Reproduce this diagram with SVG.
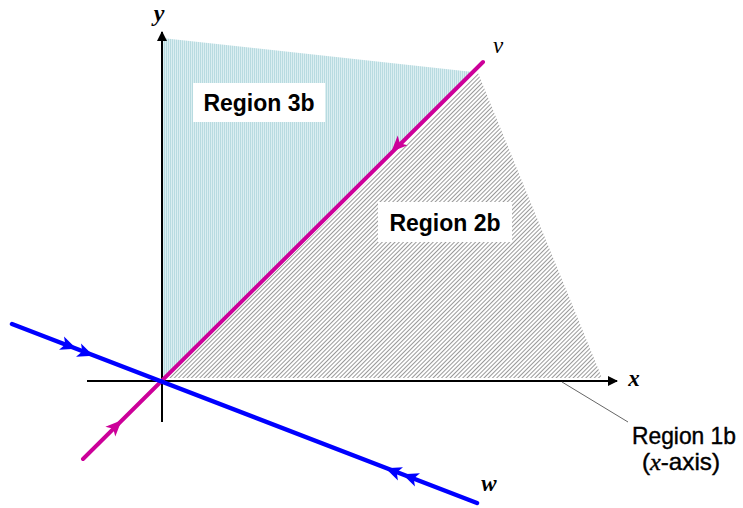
<svg xmlns="http://www.w3.org/2000/svg" width="743" height="508" viewBox="0 0 743 508">
<defs>
<pattern id="cyanPat" width="2" height="4" patternUnits="userSpaceOnUse">
<rect width="2" height="4" fill="#dbeef1"/>
<rect width="1" height="4" fill="#b8dbe0"/>
</pattern>
<pattern id="grayPat" width="3" height="3" patternUnits="userSpaceOnUse" patternTransform="rotate(45)">
<rect width="3" height="3" fill="#ffffff"/>
<rect width="1" height="3" fill="#999999"/>
</pattern>
<marker id="axHead" viewBox="0 0 10 10" refX="9" refY="5" markerWidth="5" markerHeight="5" orient="auto" markerUnits="strokeWidth">
<path d="M0,0 L10,5 L0,10 Z" fill="#000"/>
</marker>
<path id="head" d="M8,0 L-8,-7 L-4,0 L-8,7 Z"/>
<style>
.lbl{font-family:"Liberation Sans",Arial,sans-serif;fill:#000;text-anchor:middle}
.b{font-weight:bold}
.var{font-family:"Liberation Serif","Times New Roman",serif;font-style:italic;fill:#000;text-anchor:middle}
.axis{stroke:#000;stroke-width:2;fill:none}
.blue{stroke:#0000ff;stroke-width:4.5;fill:none;stroke-linecap:round}
.mag{stroke:#cc0099;stroke-width:4;fill:none;stroke-linecap:round}
.box{fill:#ffffff}
</style>
</defs>
<rect width="743" height="508" fill="#ffffff"/>

<g id="region3b">
<polygon points="162,38 473,72 471,72 162,381" fill="url(#cyanPat)"/>
</g>
<g id="region2b">
<polygon points="167,378 478,73 602,378" fill="url(#grayPat)"/>
</g>

<g id="connectors">
<line class="axis" x1="87" y1="381" x2="617" y2="381" marker-end="url(#axHead)"/>
<line class="axis" x1="162" y1="422" x2="162" y2="32" marker-end="url(#axHead)"/>
<line x1="562" y1="382" x2="628" y2="422" stroke="#666" stroke-width="1"/>
<line class="mag" x1="83" y1="459" x2="483" y2="62"/>
<line class="blue" x1="12" y1="324" x2="477" y2="503"/>
<g fill="#0000ff">
<use href="#head" transform="translate(69,346) rotate(21)"/>
<use href="#head" transform="translate(86,353) rotate(21)"/>
<use href="#head" transform="translate(393,471) rotate(201)"/>
<use href="#head" transform="translate(410,477) rotate(201)"/>
</g>
<g fill="#cc0099">
<use href="#head" transform="translate(116,426) rotate(-45)"/>
<use href="#head" transform="translate(397,146) rotate(135)"/>
</g>
</g>

<g id="label3b">
<rect class="box" x="193" y="83" width="132" height="39"/>
<text class="lbl b" x="259" y="111" font-size="23">Region 3b</text>
</g>
<g id="label2b">
<rect class="box" x="378" y="202" width="134" height="40"/>
<text class="lbl b" x="445" y="231" font-size="23">Region 2b</text>
</g>
<g id="label1b">
<text class="lbl" x="684" y="444" font-size="24" stroke="#000" stroke-width="0.4" textLength="104" lengthAdjust="spacingAndGlyphs">Region 1b</text>
<text class="lbl" x="681" y="470" font-size="24" stroke="#000" stroke-width="0.4" textLength="78" lengthAdjust="spacingAndGlyphs">(<tspan class="var" font-family="Liberation Serif">x</tspan>-axis)</text>
</g>
<g id="axisLabels">
<text class="var b" x="159" y="21" font-size="24">y</text>
<text class="var b" x="634" y="386" font-size="23">x</text>
<text class="var" x="498" y="53" font-size="23">v</text>
<text class="var b" x="489" y="491" font-size="23">w</text>
</g>
</svg>
